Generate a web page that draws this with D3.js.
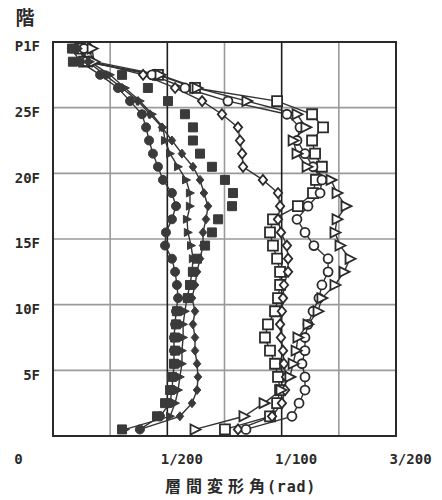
<!DOCTYPE html>
<html><head><meta charset="utf-8">
<script src="https://cdn.jsdelivr.net/npm/d3@7"></script>
<style>
html,body{margin:0;padding:0;background:#fff;}
svg{display:block;}
</style></head>
<body>
<svg id="chart" width="442" height="500"></svg>
<script>
// Stories 1..30 (drift plotted at mid-story)
const stories = d3.range(1, 31);
// Inter-story drift angles in 1/1000 rad, story 1 .. 30
const filledCircle = [3.80,4.68,5.12,5.20,5.25,5.29,5.29,5.29,5.34,5.38,5.47,5.42,5.34,5.20,4.90,4.94,5.20,5.38,5.20,4.81,4.59,4.37,4.20,4.07,3.89,3.37,2.84,2.06,1.18,0.83];
const filledSquare = [3.02,4.55,4.90,5.12,5.20,5.29,5.34,5.34,5.38,5.42,5.90,5.99,6.12,6.30,6.65,6.95,7.22,7.83,7.87,7.52,6.95,6.43,6.12,6.12,5.77,5.03,4.15,3.02,0.87,0.83];
const filledTriangle = [3.15,5.12,5.34,5.47,5.55,5.64,5.64,5.69,5.69,5.77,5.86,5.99,6.08,6.12,6.04,5.90,5.86,5.99,5.99,5.82,5.47,5.12,4.90,4.81,4.33,3.80,3.15,2.49,1.62,1.09];
const filledDiamond = [3.80,5.55,6.08,6.30,6.34,6.30,6.21,6.21,6.12,6.21,6.08,6.21,6.30,6.43,6.56,6.56,6.69,6.78,6.60,6.43,6.12,5.64,5.20,4.77,4.24,3.72,3.02,2.27,1.53,1.09];
const openCircle = [8.44,10.45,10.76,11.02,11.02,10.89,11.02,11.02,11.15,11.37,11.63,11.76,12.03,12.03,11.41,11.02,10.67,11.15,11.68,11.76,11.37,11.02,10.67,10.80,10.23,7.65,5.77,4.33,1.44,1.36];
const openSquare = [7.52,9.49,9.80,9.93,9.84,9.71,9.49,9.27,9.40,9.71,9.84,9.93,9.93,9.80,9.62,9.49,9.62,10.71,11.37,11.50,11.76,11.46,11.33,11.81,11.33,9.80,6.21,4.59,1.36,1.18];
const openTriangle = [6.21,8.35,9.23,9.97,10.36,10.50,10.63,10.71,11.15,11.59,11.76,12.33,12.73,12.99,12.55,12.33,12.42,12.81,12.42,12.16,11.11,10.67,10.50,11.06,10.67,8.48,6.30,4.68,1.79,1.71];
const openDiamond = [8.09,9.58,10.01,10.15,10.19,10.10,10.06,9.97,9.93,10.01,10.06,10.10,10.28,10.28,10.23,9.97,9.84,9.93,9.84,9.18,8.31,8.27,8.18,8.09,7.39,6.52,5.34,3.94,1.71,1.62];

const xTicks = [0, 5, 10, 15];
const xTickLabels = ["0", "1/200", "1/100", "3/200"];
const xGrid = [2.5, 7.5, 12.5];
const yTicks = [5, 10, 15, 20, 25, 30];
const yTickLabels = ["5F", "10F", "15F", "20F", "25F", "P1F"];
const yTitle = "階";
const xTitleJa = "層間変形角";
const xTitleUnit = "(rad)";

const series = [
  {name: "openSquare", values: openSquare, shape: "square", filled: false, line: true},
  {name: "openDiamond", values: openDiamond, shape: "diamond", filled: false, line: true},
  {name: "openCircle", values: openCircle, shape: "circle", filled: false, line: true},
  {name: "openTriangle", values: openTriangle, shape: "triangle", filled: false, line: true},
  {name: "filledSquare", values: filledSquare, shape: "square", filled: true, line: false},
  {name: "filledDiamond", values: filledDiamond, shape: "diamond", filled: true, line: true},
  {name: "filledTriangle", values: filledTriangle, shape: "triangle", filled: true, line: true},
  {name: "filledCircle", values: filledCircle, shape: "circle", filled: true, line: true}
];

const svg = d3.select("#chart");
const L = 53, R = 396, T = 42, B = 436;
const x = d3.scaleLinear().domain([0, 15]).range([L, R]);
const y = d3.scaleLinear().domain([0, 30]).range([B, T]);

// grid
const g = svg.append("g");
g.selectAll("line.vg").data(xGrid).join("line")
  .attr("x1", d => x(d)).attr("x2", d => x(d)).attr("y1", T).attr("y2", B)
  .attr("stroke", "#9a9a9a").attr("stroke-width", 1.6);
g.selectAll("line.hg").data(yTicks.slice(0, -1)).join("line")
  .attr("x1", L).attr("x2", R).attr("y1", d => y(d)).attr("y2", d => y(d))
  .attr("stroke", "#9a9a9a").attr("stroke-width", 1.6);
g.selectAll("line.mg").data([5, 10]).join("line")
  .attr("x1", d => x(d)).attr("x2", d => x(d)).attr("y1", T).attr("y2", B)
  .attr("stroke", "#1e1e1e").attr("stroke-width", 1.6);
svg.append("rect").attr("x", L).attr("y", T).attr("width", R - L).attr("height", B - T)
  .attr("fill", "none").attr("stroke", "#2a2a2a").attr("stroke-width", 2);

// shapes
function shapePath(shape, s) {
  const p = d3.path();
  if (shape === "circle") { p.arc(0, 0, s / 2, 0, 2 * Math.PI); }
  else if (shape === "square") { p.rect(-s / 2, -s / 2, s, s); }
  else if (shape === "diamond") { p.moveTo(0, -s / 2); p.lineTo(s * 0.42, 0); p.lineTo(0, s / 2); p.lineTo(-s * 0.42, 0); p.closePath(); }
  else if (shape === "triangle") { p.moveTo(s * 0.55, 0); p.lineTo(-s * 0.45, -s * 0.5); p.lineTo(-s * 0.45, s * 0.5); p.closePath(); }
  return p.toString();
}
const sizes = {open: {circle: 9, square: 10, diamond: 10, triangle: 10}, filled: {circle: 9, square: 9, diamond: 9, triangle: 8}};

const line = d3.line().x(d => x(d.v)).y(d => y(d.k - 0.5));
const plot = svg.append("g");
series.forEach(s => {
  const pts = stories.map((k, i) => ({k, v: s.values[i]}));
  if (s.line) {
    plot.append("path").datum(pts).attr("d", line)
      .attr("fill", "none").attr("stroke", "#333").attr("stroke-width", 1.4);
  }
});
series.forEach(s => {
  const pts = stories.map((k, i) => ({k, v: s.values[i]}));
  const sz = sizes[s.filled ? "filled" : "open"][s.shape];
  plot.append("g").selectAll("path").data(pts).join("path")
    .attr("transform", d => `translate(${x(d.v)},${y(d.k - 0.5)})`)
    .attr("d", shapePath(s.shape, sz))
    .attr("fill", s.filled ? "#3a3a3a" : "#fff")
    .attr("stroke", s.filled ? "#3a3a3a" : "#2b2b2b")
    .attr("stroke-width", s.filled ? 1 : 1.8);
});

// axes
const fontTick = "'DejaVu Sans Mono', monospace";
const yAxis = d3.axisLeft(y).tickValues(yTicks).tickSize(0).tickPadding(13)
  .tickFormat((d, i) => yTickLabels[i]);
const ya = svg.append("g").attr("transform", `translate(${L},0)`).call(yAxis);
ya.select(".domain").remove();
ya.selectAll("text").attr("dy", "0.62em").attr("font-family", fontTick)
  .attr("font-weight", "bold").attr("font-size", 14).attr("fill", "#2a2a2a");

const xAxis = d3.axisBottom(x).tickValues(xTicks).tickSize(0).tickPadding(18)
  .tickFormat((d, i) => xTickLabels[i]);
const xa = svg.append("g").attr("transform", `translate(0,${B})`).call(xAxis);
xa.select(".domain").remove();
xa.selectAll("text").attr("x", d => d === 0 ? -35 : 14).attr("font-family", fontTick)
  .attr("font-weight", "bold").attr("font-size", 14).attr("fill", "#2a2a2a");

// titles
svg.append("text").attr("x", 25).attr("y", 25).attr("text-anchor", "middle")
  .attr("font-family", "'Noto Sans CJK JP'").attr("font-weight", "bold")
  .attr("font-size", 19).attr("fill", "#2a2a2a").text(yTitle);
const xt = svg.append("text").attr("x", 165).attr("y", 492)
  .attr("font-weight", "bold").attr("fill", "#2a2a2a");
xt.append("tspan").attr("font-family", "'Noto Sans CJK JP'").attr("font-size", 16)
  .attr("letter-spacing", 5).text(xTitleJa);
xt.append("tspan").attr("font-family", fontTick).attr("font-size", 15)
  .attr("dx", -3).attr("letter-spacing", 0.8).text(xTitleUnit);
</script>
</body></html>
